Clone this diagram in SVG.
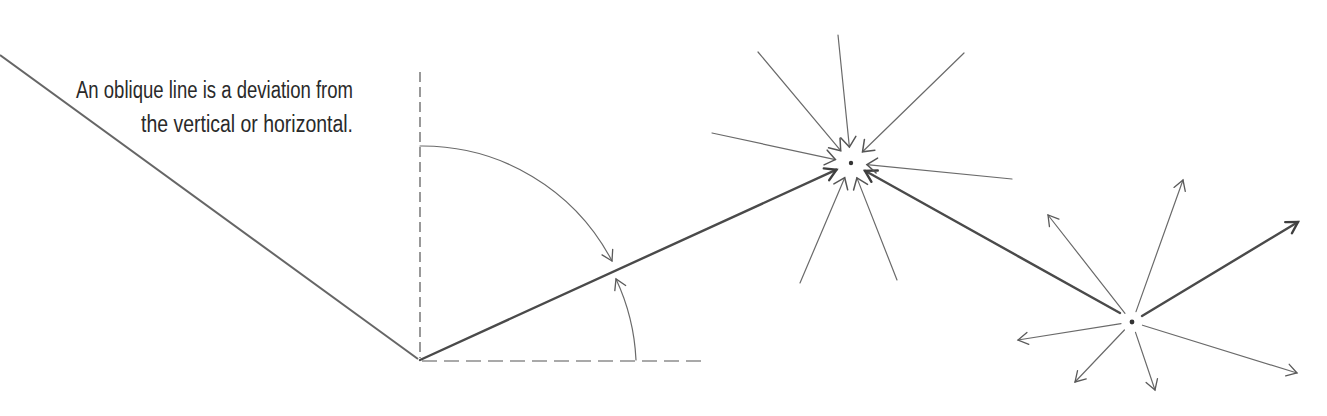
<svg xmlns="http://www.w3.org/2000/svg" width="1327" height="416" viewBox="0 0 1327 416">
<style>
.thin{stroke:#6a6a6a;stroke-width:1.2;fill:none;stroke-linecap:round}
.thick{stroke:#4a4a4a;stroke-width:2.4;fill:none;stroke-linecap:round}
.dash{stroke:#555;stroke-width:1.2;fill:none}
.txt{font-family:"Liberation Sans",Arial,sans-serif;font-size:23px;fill:#2a2a2a}
</style>
<defs>
<marker id="ah" markerUnits="userSpaceOnUse" markerWidth="16" markerHeight="16" viewBox="0 0 16 16" refX="13" refY="8" orient="auto">
<path d="M3,2 L13,8 L3,14" fill="none" stroke="#5a5a5a" stroke-width="1.3" stroke-linecap="round"/>
</marker>
<marker id="ahs" markerUnits="userSpaceOnUse" markerWidth="18" markerHeight="18" viewBox="0 0 18 18" refX="15" refY="9" orient="auto">
<path d="M5,1.5 L15,9 L5,16.5" fill="none" stroke="#555" stroke-width="1.5" stroke-linecap="round"/>
</marker>
<marker id="ahb" markerUnits="userSpaceOnUse" markerWidth="18" markerHeight="18" viewBox="0 0 18 18" refX="15" refY="9" orient="auto">
<path d="M4,2.5 L15,9 L4,15.5" fill="none" stroke="#3f3f3f" stroke-width="2.4" stroke-linecap="round"/>
</marker>
</defs>
<rect width="1327" height="416" fill="#ffffff"/>
<g id="caption">
<text class="txt" x="76" y="98" textLength="277" lengthAdjust="spacingAndGlyphs">An oblique line is a deviation from</text>
<text class="txt" x="141" y="132" textLength="212" lengthAdjust="spacingAndGlyphs">the vertical or horizontal.</text>
</g>
<g id="left-line">
<line x1="0" y1="55" x2="418" y2="359" stroke="#666" stroke-width="2"/>
</g>
<g id="axes">
<line class="dash" x1="420" y1="72" x2="420" y2="358" stroke-dasharray="10 5"/>
<line class="dash" x1="422" y1="361" x2="705" y2="361" stroke-dasharray="15 7"/>
</g>
<g id="angle-arcs">
<path class="thin" d="M420,146 A214,214 0 0 1 612,261" marker-end="url(#ah)"/>
<path class="thin" d="M636,360 A214,214 0 0 0 616,279" marker-end="url(#ah)"/>
</g>
<g id="connectors">
<line class="thick" x1="420" y1="360" x2="836.5" y2="169.7" marker-end="url(#ahb)"/>
<line class="thick" x1="1120" y1="313" x2="865" y2="170.8" marker-end="url(#ahb)"/>
</g>
<g id="star-in">
<line class="thin" x1="838" y1="35" x2="849.4" y2="147.1" marker-end="url(#ahs)"/>
<line class="thin" x1="758" y1="52" x2="840.7" y2="150.7" marker-end="url(#ahs)"/>
<line class="thin" x1="964" y1="53" x2="862.5" y2="151.8" marker-end="url(#ahs)"/>
<line class="thin" x1="712" y1="133" x2="835.4" y2="159.6" marker-end="url(#ahs)"/>
<line class="thin" x1="1012" y1="179" x2="866.9" y2="164.6" marker-end="url(#ahs)"/>
<line class="thin" x1="800" y1="283" x2="844.7" y2="177.7" marker-end="url(#ahs)"/>
<line class="thin" x1="897" y1="280" x2="856.9" y2="177.9" marker-end="url(#ahs)"/>
<circle cx="851" cy="163" r="2.2" fill="#333"/>
</g>
<g id="star-out">
<line class="thick" x1="1142" y1="316" x2="1298" y2="222" marker-end="url(#ahb)"/>
<line class="thin" x1="1136" y1="311.6" x2="1183" y2="180" marker-end="url(#ah)"/>
<line class="thin" x1="1125" y1="313.3" x2="1048" y2="215" marker-end="url(#ah)"/>
<line class="thin" x1="1121" y1="323.7" x2="1018" y2="340" marker-end="url(#ah)"/>
<line class="thin" x1="1124.4" y1="330" x2="1075" y2="382" marker-end="url(#ah)"/>
<line class="thin" x1="1135.5" y1="332.4" x2="1155" y2="390" marker-end="url(#ah)"/>
<line class="thin" x1="1142.5" y1="325.2" x2="1297" y2="373" marker-end="url(#ah)"/>
<circle cx="1132" cy="322" r="2.4" fill="#333"/>
</g>
</svg>
